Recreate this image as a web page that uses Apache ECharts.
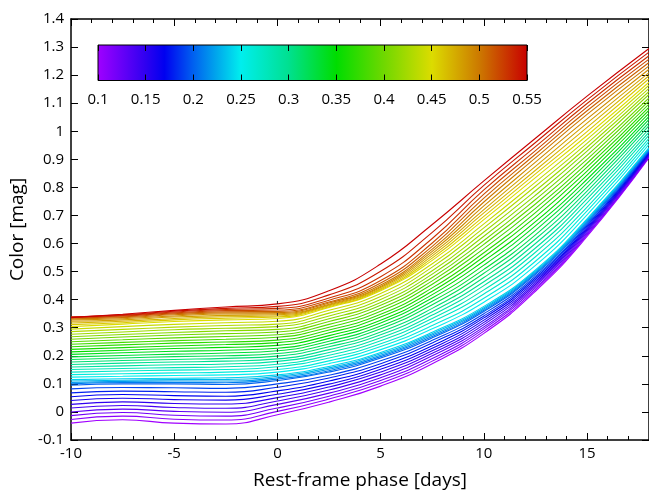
<!DOCTYPE html>
<html>
<head>
<meta charset="utf-8">
<script src="https://cdn.jsdelivr.net/npm/echarts@6/dist/echarts.min.js"></script>
<style>
html, body { margin: 0; padding: 0; background: #fff; }
#chart { width: 649px; height: 495px; }
</style>
</head>
<body>
<div id="chart"></div>
<script>
var phases = [-10, -7.5, -5, -2.5, 0, 2.5, 5, 7.5, 10, 12.5, 15, 18];
// colour-bar parameter of each curve
var params = [0.10, 0.11, 0.12, 0.13, 0.14, 0.15, 0.16, 0.17, 0.18, 0.19,
              0.20, 0.21, 0.22, 0.23, 0.24, 0.25, 0.26, 0.27, 0.28, 0.29,
              0.30, 0.31, 0.32, 0.33, 0.34, 0.35, 0.36, 0.37, 0.38, 0.39,
              0.40, 0.41, 0.42, 0.43, 0.44, 0.45, 0.46, 0.47, 0.48, 0.49,
              0.50, 0.51, 0.52, 0.53, 0.54, 0.55];

// colour [mag] of every curve at each phase (one array per phase, ordered like params)
var colM10 = [-0.040, -0.027, -0.013, 0.000, 0.014, 0.027, 0.041, 0.054, 0.068, 0.082, 0.095,
  0.100, 0.105, 0.110, 0.115,
  0.124, 0.133, 0.142, 0.151, 0.160, 0.169, 0.178, 0.187, 0.196, 0.205, 0.214, 0.223, 0.232, 0.241, 0.250, 0.259, 0.268, 0.277, 0.286, 0.295, 0.304,
  0.311, 0.317, 0.323, 0.328, 0.332, 0.335, 0.337, 0.338, 0.338, 0.336];
var colM7p5 = [-0.028, -0.015, -0.002, 0.010, 0.023, 0.036, 0.049, 0.062, 0.074, 0.087, 0.100,
  0.105, 0.109, 0.113, 0.118,
  0.127, 0.136, 0.146, 0.155, 0.164, 0.174, 0.183, 0.192, 0.201, 0.211, 0.220, 0.229, 0.239, 0.248, 0.257, 0.267, 0.276, 0.285, 0.294, 0.304, 0.313,
  0.318, 0.323, 0.328, 0.332, 0.336, 0.339, 0.342, 0.344, 0.346, 0.348];
var colM5 = [-0.040, -0.026, -0.012, 0.002, 0.016, 0.030, 0.044, 0.058, 0.072, 0.086, 0.100,
  0.105, 0.110, 0.115, 0.120,
  0.130, 0.139, 0.149, 0.158, 0.168, 0.178, 0.187, 0.197, 0.206, 0.216, 0.226, 0.235, 0.245, 0.254, 0.264, 0.274, 0.283, 0.293, 0.302, 0.312, 0.322,
  0.328, 0.333, 0.338, 0.342, 0.346, 0.350, 0.353, 0.356, 0.359, 0.362];
var colM2p5 = [-0.043, -0.029, -0.015, -0.001, 0.013, 0.028, 0.042, 0.056, 0.070, 0.084, 0.098,
  0.104, 0.110, 0.116, 0.122,
  0.132, 0.142, 0.151, 0.161, 0.171, 0.181, 0.191, 0.200, 0.210, 0.220, 0.230, 0.240, 0.249, 0.259, 0.269, 0.279, 0.289, 0.298, 0.308, 0.318, 0.328,
  0.334, 0.339, 0.344, 0.349, 0.353, 0.357, 0.361, 0.365, 0.369, 0.374];
var col0 = [-0.010, 0.002, 0.014, 0.027, 0.039, 0.051, 0.063, 0.075, 0.088, 0.100, 0.112,
  0.117, 0.122, 0.127, 0.132,
  0.142, 0.151, 0.161, 0.170, 0.180, 0.189, 0.199, 0.208, 0.218, 0.227, 0.237, 0.247, 0.256, 0.266, 0.275, 0.285, 0.294, 0.304, 0.313, 0.323, 0.333,
  0.338, 0.342, 0.346, 0.350, 0.354, 0.358, 0.363, 0.369, 0.376, 0.385];
var colP2p5 = [0.035, 0.046, 0.056, 0.067, 0.078, 0.089, 0.099, 0.110, 0.121, 0.131, 0.142,
  0.147, 0.152, 0.157, 0.162,
  0.172, 0.182, 0.192, 0.202, 0.212, 0.222, 0.232, 0.242, 0.252, 0.262, 0.272, 0.282, 0.292, 0.302, 0.312, 0.322, 0.332, 0.342, 0.352, 0.362, 0.372,
  0.375, 0.378, 0.381, 0.384, 0.388, 0.392, 0.398, 0.406, 0.417, 0.432];
var colP5 = [0.092, 0.102, 0.112, 0.122, 0.132, 0.142, 0.152, 0.162, 0.172, 0.182, 0.192,
  0.197, 0.202, 0.207, 0.212,
  0.222, 0.233, 0.243, 0.254, 0.264, 0.275, 0.285, 0.296, 0.306, 0.317, 0.327, 0.338, 0.348, 0.359, 0.369, 0.380, 0.390, 0.401, 0.411, 0.422, 0.432,
  0.435, 0.439, 0.443, 0.447, 0.452, 0.459, 0.468, 0.482, 0.501, 0.527];
var colP7p5 = [0.172, 0.181, 0.190, 0.200, 0.209, 0.218, 0.227, 0.236, 0.246, 0.255, 0.264,
  0.269, 0.274, 0.279, 0.284,
  0.296, 0.308, 0.321, 0.333, 0.345, 0.357, 0.369, 0.382, 0.394, 0.406, 0.418, 0.430, 0.442, 0.455, 0.467, 0.479, 0.491, 0.503, 0.516, 0.528, 0.540,
  0.548, 0.556, 0.564, 0.572, 0.580, 0.590, 0.602, 0.618, 0.640, 0.668];
var colP10 = [0.280, 0.288, 0.296, 0.303, 0.311, 0.319, 0.327, 0.335, 0.342, 0.350, 0.358,
  0.362, 0.367, 0.371, 0.376,
  0.391, 0.405, 0.420, 0.435, 0.450, 0.464, 0.479, 0.494, 0.508, 0.523, 0.538, 0.553, 0.567, 0.582, 0.597, 0.611, 0.626, 0.641, 0.656, 0.670, 0.685,
  0.697, 0.709, 0.721, 0.734, 0.748, 0.762, 0.776, 0.791, 0.807, 0.823];
var colP12p5 = [0.430, 0.436, 0.442, 0.448, 0.454, 0.460, 0.466, 0.472, 0.478, 0.484, 0.490,
  0.494, 0.498, 0.502, 0.506,
  0.522, 0.537, 0.553, 0.569, 0.584, 0.600, 0.616, 0.631, 0.647, 0.663, 0.678, 0.694, 0.710, 0.725, 0.741, 0.757, 0.772, 0.788, 0.804, 0.819, 0.835,
  0.848, 0.861, 0.875, 0.890, 0.905, 0.918, 0.931, 0.945, 0.960, 0.975];
var colP15 = [0.625, 0.630, 0.634, 0.639, 0.644, 0.649, 0.653, 0.658, 0.663, 0.667, 0.672,
  0.676, 0.680, 0.684, 0.688,
  0.702, 0.716, 0.730, 0.745, 0.759, 0.773, 0.787, 0.801, 0.815, 0.829, 0.844, 0.858, 0.872, 0.886, 0.900, 0.914, 0.929, 0.943, 0.957, 0.971, 0.985,
  0.999, 1.014, 1.029, 1.044, 1.060, 1.073, 1.086, 1.099, 1.112, 1.125];
var colP18 = [0.905, 0.908, 0.910, 0.913, 0.915, 0.918, 0.920, 0.923, 0.925, 0.928, 0.930,
  0.933, 0.936, 0.939, 0.942,
  0.953, 0.964, 0.975, 0.986, 0.997, 1.008, 1.020, 1.031, 1.042, 1.053, 1.064, 1.075, 1.086, 1.097, 1.108, 1.119, 1.131, 1.142, 1.153, 1.164, 1.175,
  1.187, 1.198, 1.209, 1.221, 1.233, 1.245, 1.257, 1.269, 1.282, 1.295];
var columns = [colM10, colM7p5, colM5, colM2p5, col0, colP2p5, colP5, colP7p5, colP10, colP12p5, colP15, colP18];

// dashed marker at maximum light
var markerPhase = [0, 0];
var markerColor = [0, 0.40];

// colour bar range
var cbarRange = [0.10, 0.55];

// rainbow palette (parameter -> colour)
var cmapStops = [
  [0.10, '#a000ff'], [0.15, '#3000f0'], [0.17, '#0000f0'], [0.20, '#0060f0'],
  [0.225, '#00a8ec'], [0.25, '#00eeee'], [0.30, '#00e090'], [0.35, '#00dd00'],
  [0.40, '#70d800'], [0.45, '#dcdc00'], [0.50, '#cc7800'], [0.55, '#c80000']
];

function hexRgb(h) {
  return [parseInt(h.substr(1, 2), 16), parseInt(h.substr(3, 2), 16), parseInt(h.substr(5, 2), 16)];
}
function cmap(p) {
  for (var k = 1; k < cmapStops.length; k++) {
    if (p <= cmapStops[k][0] + 1e-9) {
      var a = hexRgb(cmapStops[k - 1][1]), b = hexRgb(cmapStops[k][1]);
      var t = (p - cmapStops[k - 1][0]) / (cmapStops[k][0] - cmapStops[k - 1][0]);
      return 'rgb(' + Math.round(a[0] + (b[0] - a[0]) * t) + ',' +
        Math.round(a[1] + (b[1] - a[1]) * t) + ',' + Math.round(a[2] + (b[2] - a[2]) * t) + ')';
    }
  }
  return cmapStops[cmapStops.length - 1][1];
}

var cbarStops = cmapStops.map(function (s) {
  return { offset: (s[0] - cbarRange[0]) / (cbarRange[1] - cbarRange[0]), color: s[1] };
});

var FONT = 'Open Sans';
var tickFont = { fontFamily: FONT, fontSize: 15, color: '#000' };
var frame = { show: true, onZero: false, lineStyle: { color: '#000', width: 1.5 } };

var series = params.map(function (p, i) {
  return {
    type: 'line',
    xAxisIndex: 0, yAxisIndex: 0,
    smooth: 0.5,
    symbol: 'none',
    silent: true,
    lineStyle: { width: 1.1, color: cmap(p) },
    data: phases.map(function (x, j) { return [x, columns[j][i]]; })
  };
});

series.push({
  type: 'line',
  xAxisIndex: 0, yAxisIndex: 0,
  symbol: 'none', silent: true, z: 5,
  lineStyle: { color: '#222', width: 1, type: [3, 3] },
  data: markerPhase.map(function (x, i) { return [x, markerColor[i]]; })
});

series.push({
  type: 'custom',
  xAxisIndex: 2, yAxisIndex: 2,
  silent: true, z: 3,
  data: [cbarRange],
  renderItem: function (params, api) {
    var a = api.coord([api.value(0), 0]);
    var b = api.coord([api.value(1), 1]);
    return {
      type: 'rect',
      shape: { x: a[0], y: b[1], width: b[0] - a[0], height: a[1] - b[1] },
      style: { fill: new echarts.graphic.LinearGradient(0, 0, 1, 0, cbarStops), stroke: '#000', lineWidth: 1 }
    };
  }
});

var chart = echarts.init(document.getElementById('chart'));
chart.setOption({
  animation: false,
  backgroundColor: '#fff',
  grid: [
    { left: 71, top: 19, right: -4.4, bottom: 52.7 },
    { left: 98, top: 45, width: 429, height: 35.5 }
  ],
  xAxis: [
    {
      gridIndex: 0, type: 'value', position: 'bottom', min: -10, max: 18, interval: 5,
      name: 'Rest-frame phase [days]', nameLocation: 'middle', nameGap: 31,
      nameTextStyle: { fontFamily: FONT, fontSize: 19, color: '#000' },
      axisLine: frame,
      axisTick: { inside: true, length: 7, lineStyle: { color: '#000' } },
      minorTick: { show: true, splitNumber: 5, length: 4, lineStyle: { color: '#000' } },
      axisLabel: Object.assign({ margin: 6, showMaxLabel: false }, tickFont),
      splitLine: { show: false }
    },
    {
      gridIndex: 0, type: 'value', position: 'top', min: -10, max: 18, interval: 5,
      axisLine: frame,
      axisTick: { inside: true, length: 7, lineStyle: { color: '#000' } },
      minorTick: { show: true, splitNumber: 5, length: 4, lineStyle: { color: '#000' } },
      axisLabel: { show: false },
      splitLine: { show: false }
    },
    {
      gridIndex: 1, type: 'value', position: 'bottom', min: 0.1, max: 0.55, interval: 0.05, z: 10,
      axisLine: { show: false },
      axisTick: { inside: true, length: 6, lineStyle: { color: '#000' } },
      axisLabel: Object.assign({ margin: 12 }, tickFont),
      splitLine: { show: false }
    },
    {
      gridIndex: 1, type: 'value', position: 'top', min: 0.1, max: 0.55, interval: 0.05, z: 10,
      axisLine: { show: false },
      axisTick: { inside: true, length: 6, lineStyle: { color: '#000' } },
      axisLabel: { show: false },
      splitLine: { show: false }
    }
  ],
  yAxis: [
    {
      gridIndex: 0, type: 'value', position: 'left', min: -0.1, max: 1.4, interval: 0.1,
      name: 'Color [mag]', nameLocation: 'middle', nameGap: 37,
      nameTextStyle: { fontFamily: FONT, fontSize: 19, color: '#000' },
      axisLine: frame,
      axisTick: { inside: true, length: 7, lineStyle: { color: '#000' } },
      axisLabel: Object.assign({ margin: 7 }, tickFont),
      splitLine: { show: false }
    },
    {
      gridIndex: 0, type: 'value', position: 'right', min: -0.1, max: 1.4, interval: 0.1,
      axisLine: frame,
      axisTick: { inside: true, length: 7, lineStyle: { color: '#000' } },
      axisLabel: { show: false },
      splitLine: { show: false }
    },
    {
      gridIndex: 1, type: 'value', min: 0, max: 1, show: false
    }
  ],
  series: series
});
</script>
</body>
</html>
